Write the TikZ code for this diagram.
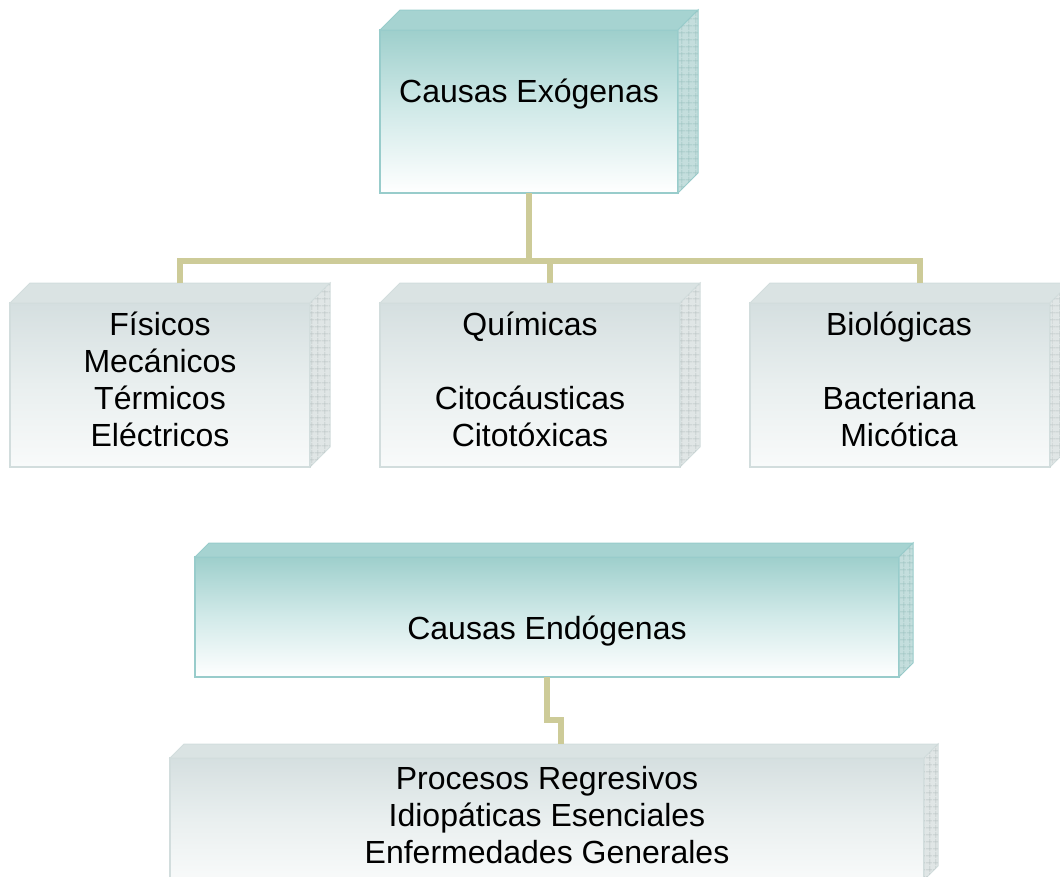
\documentclass[tikz,border=0pt]{standalone}
\usepackage{fontspec}
\setmainfont{Liberation Sans}
\usetikzlibrary{patterns.meta}
\definecolor{tealTop}{HTML}{9ECFCC}
\definecolor{tealMid}{HTML}{D2EAE9}
\definecolor{tealFace}{HTML}{A6D3D1}
\definecolor{tealSide}{HTML}{C4DEDD}
\definecolor{tealGrid}{HTML}{93BCBA}
\definecolor{tealEdge}{HTML}{98CCCB}
\definecolor{greyTop}{HTML}{D5DFE0}
\definecolor{greyMid}{HTML}{E9EFEF}
\definecolor{greyFace}{HTML}{DAE3E3}
\definecolor{greySide}{HTML}{E0E6E6}
\definecolor{greyGrid}{HTML}{B2BDBD}
\definecolor{greyEdge}{HTML}{D2DDDD}
\definecolor{connCol}{HTML}{CDCB98}
\tikzset{
  every node/.style={inner sep=0pt, outer sep=0pt},
  front teal/.style={draw=tealEdge, line width=1.3pt, top color=tealTop, bottom color=white, middle color=tealMid},
  top teal/.style={fill=tealFace, draw=tealEdge, line width=1pt},
  side teal/.style={fill=tealSide, draw=tealEdge, line width=1pt,
     postaction={pattern={Lines[distance=6.5pt,line width=0.5pt]}, pattern color=tealGrid},
     postaction={pattern={Lines[angle=90,distance=6.5pt,line width=0.5pt]}, pattern color=tealGrid}},
  front grey/.style={draw=greyEdge, line width=1.3pt, top color=greyTop, bottom color=white!70!greyMid, middle color=greyMid},
  top grey/.style={fill=greyFace, draw=greyEdge, line width=1pt},
  side grey/.style={fill=greySide, draw=greyEdge, line width=1pt,
     postaction={pattern={Lines[distance=6.5pt,line width=0.5pt]}, pattern color=greyGrid},
     postaction={pattern={Lines[angle=90,distance=6.5pt,line width=0.5pt]}, pattern color=greyGrid}},
  conn/.style={draw=connCol, line width=6pt, line cap=butt, line join=miter},
  lbl/.style={font=\fontsize{32}{37}\selectfont, text=black, anchor=base},
}
% #1 name, #2 cx, #3 cy, #4 width, #5 height, #6 depth, #7 theme
\newcommand\cubebox[7]{%
  \node[front #7, minimum width=#4pt, minimum height=#5pt] (#1) at (#2,#3) {};
  \path[top #7] (#1.north west) -- ++(#6,-#6) -- ([shift={(#6,-#6)}]#1.north east) -- (#1.north east) -- cycle;
  \path[side #7] (#1.north east) -- ++(#6,-#6) -- ([shift={(#6,-#6)}]#1.south east) -- (#1.south east) -- cycle;
  \coordinate (#1K) at ([shift={(#6,-#6)}]#1.north);
}
\begin{document}
\begin{tikzpicture}[x=1pt, y=-1pt]
\useasboundingbox (0,0) rectangle (1060,876);
\clip (0,0) rectangle (1060,876);
\fill[white] (0,0) rectangle (1060,876);

\cubebox{exo}{529}{111.5}{298}{163}{20}{teal}
\cubebox{fis}{160}{385}{300}{164}{20}{grey}
\cubebox{qui}{530}{385}{300}{164}{20}{grey}
\cubebox{bio}{900}{385}{300}{164}{20}{grey}
\cubebox{endo}{547}{617}{704}{120}{14}{teal}
\cubebox{proc}{547}{819}{754}{122}{14}{grey}

\coordinate (bus) at (529,261);
\draw[conn] (exo.south) -- (bus);
\draw[conn] (fisK) |- (bus) -| (bioK);
\draw[conn] (quiK) -- (quiK |- bus);
\draw[conn] (endo.south) -- ++(0,43) -| (procK);

\node[lbl] (exoL) at (529,102) {Causas Exógenas};
\node[lbl] (fisL) at (160,335) {\begin{tabular}[t]{@{}c@{}}Físicos\\Mecánicos\\Térmicos\\Eléctricos\end{tabular}};
\node[lbl] (quiL) at (530,335) {\begin{tabular}[t]{@{}c@{}}Químicas\\ \\Citocáusticas\\Citotóxicas\end{tabular}};
\node[lbl] (bioL) at (899,335) {\begin{tabular}[t]{@{}c@{}}Biológicas\\ \\Bacteriana\\Micótica\end{tabular}};
\node[lbl] (endoL) at (547,639) {Causas Endógenas};
\node[lbl] (procL) at (547,789) {\begin{tabular}[t]{@{}c@{}}Procesos Regresivos\\Idiopáticas Esenciales\\Enfermedades Generales\end{tabular}};
\end{tikzpicture}
\end{document}
